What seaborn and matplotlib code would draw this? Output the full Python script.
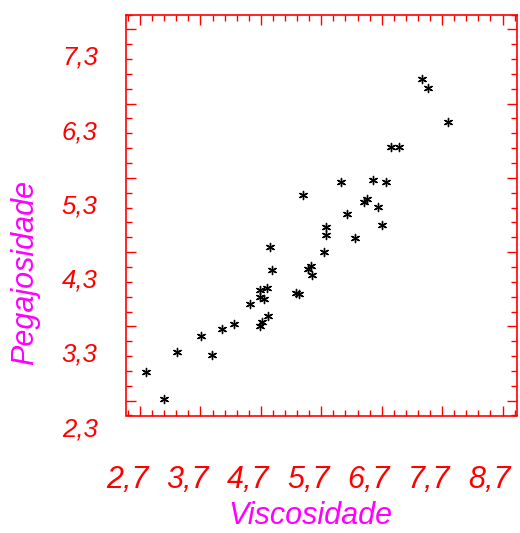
import numpy as np
import matplotlib
matplotlib.use("Agg")
from matplotlib import pyplot as plt
import matplotlib.transforms as mtransforms
import seaborn as sns
import pandas as pd

# values
viscosidade = [7.37, 7.47, 7.79, 6.86, 6.99, 6.02, 6.56, 6.77, 5.40, 6.45,
               6.41, 6.64, 6.12, 6.70, 5.78, 5.78, 6.26, 4.85, 5.74, 5.53,
               5.48, 5.55, 4.88, 4.81, 4.68, 5.29, 5.33, 4.69, 4.75, 4.52,
               4.82, 4.72, 4.68, 4.25, 4.06, 3.71, 3.31, 3.89, 2.80, 3.10]
pegajosidade = [6.63, 6.51, 6.05, 5.72, 5.72, 5.25, 5.27, 5.24, 5.07, 5.02,
                4.97, 4.91, 4.81, 4.66, 4.64, 4.53, 4.49, 4.37, 4.30, 4.11,
                4.07, 3.99, 4.06, 3.82, 3.79, 3.75, 3.74, 3.70, 3.67, 3.60,
                3.44, 3.36, 3.31, 3.33, 3.27, 3.17, 2.96, 2.91, 2.69, 2.32]
x_ticks = [2.7, 3.7, 4.7, 5.7, 6.7, 7.7, 8.7]
y_ticks = [2.3, 3.3, 4.3, 5.3, 6.3, 7.3]

df = pd.DataFrame({"Viscosidade": viscosidade, "Pegajosidade": pegajosidade})

sns.set_style("white")
plt.rcParams["font.family"] = ["Liberation Sans", "DejaVu Sans"]

fig = plt.figure(figsize=(5.2, 5.33), dpi=100)
ax = fig.add_axes([125.5 / 520, 1 - 415.5 / 533, 391.5 / 520, 401 / 533])

sns.scatterplot(data=df, x="Viscosidade", y="Pegajosidade", ax=ax,
                marker=(6, 2, 0), color="black", s=34, linewidth=1.0)

ax.set_xlim(2.46, 8.94)
ax.set_ylim(2.1, 7.5)
ax.set_xticks(x_ticks)
ax.set_yticks(y_ticks)
ax.set_xticks(np.arange(2.5, 8.95, 0.2), minor=True)
ax.set_yticks(np.arange(2.1, 7.51, 0.2), minor=True)
ax.set_xticklabels([f"{v:.1f}".replace(".", ",") for v in x_ticks],
                   fontsize=22, style="italic", color="red")
ax.set_yticklabels([f"{v:.1f}".replace(".", ",") for v in y_ticks],
                   fontsize=18.5, style="italic", color="red")
ax.tick_params(which="both", direction="in", bottom=True, left=True,
               top=True, right=True, color="red", width=1)
ax.tick_params(which="major", length=7)
ax.tick_params(which="minor", length=4)
ax.tick_params(axis="x", which="major", pad=36)
ax.tick_params(axis="y", which="major", pad=20)

for sp in ax.spines.values():
    sp.set_color("red")
    sp.set_linewidth(1.2)

# labels sit a bit off their ticks in the original
dx = mtransforms.ScaledTranslation(-13 / 100, 0, fig.dpi_scale_trans)
for lab in ax.get_xticklabels():
    lab.set_transform(lab.get_transform() + dx)
dy = mtransforms.ScaledTranslation(0, -26 / 100, fig.dpi_scale_trans)
for lab in ax.get_yticklabels():
    lab.set_transform(lab.get_transform() + dy)

ax.set_xlabel("")
ax.set_ylabel("")
fig.text(310 / 520, 1 - 516 / 533, "Viscosidade", ha="center", va="center",
         fontsize=22, style="italic", color="#ff00ff")
fig.text(25 / 520, 1 - 272 / 533, "Pegajosidade", ha="center", va="center",
         rotation=90, fontsize=22, style="italic", color="#ff00ff")

fig.savefig("out.png", dpi=100)
